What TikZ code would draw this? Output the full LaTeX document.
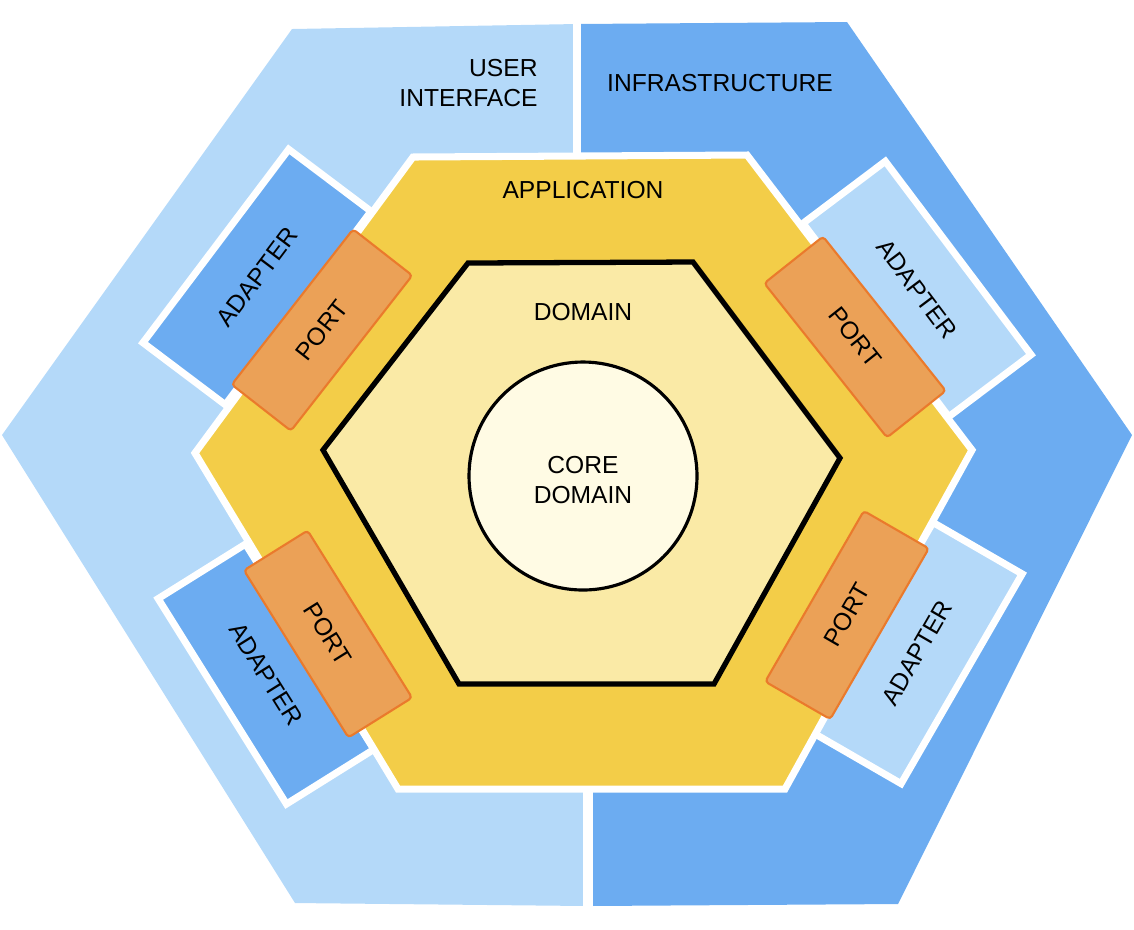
\documentclass[tikz,border=0pt]{standalone}
\usepackage{fontspec}
\setmainfont{Liberation Sans}
\definecolor{uiblue}{HTML}{B4D9F9}
\definecolor{infblue}{HTML}{6CACF1}
\definecolor{appyellow}{HTML}{F3CD48}
\definecolor{domyellow}{HTML}{FAEAA6}
\definecolor{corecream}{HTML}{FFFBE4}
\definecolor{portfill}{HTML}{EBA157}
\definecolor{portline}{HTML}{EA7A2C}

\begin{document}
\begin{tikzpicture}[x=0.01cm,y=-0.01cm,font=\fontsize{7}{8.8}\selectfont,
  adapter/.style={draw=white,line width=2pt,minimum width=2.42cm,minimum height=1.03cm,inner sep=0pt},
  port/.style={draw=portline,fill=portfill,line width=0.6pt,rounded corners=1pt,minimum width=1.97cm,minimum height=0.75cm,inner sep=0pt}]
\useasboundingbox (0,0) rectangle (1134,929);

% outer ring: user interface and infrastructure
\fill[uiblue] (292,29) -- (577,24) -- (577,475) -- (588,475) -- (588,906) -- (295,903) -- (2,435) -- cycle;
\fill[infblue] (577,24) -- (847,22) -- (1132,435) -- (898,904) -- (588,906) -- (588,475) -- (577,475) -- cycle;
\draw[white,line width=2.5pt] (577,15) -- (577,170);
\draw[white,line width=2.8pt] (588,775) -- (588,915);

\node[adapter,fill=infblue,rotate=53] (adtl) at (257,277) {ADAPTER};
\node[adapter,fill=uiblue,rotate=-53] (adtr) at (917,289) {ADAPTER};
\node[adapter,fill=infblue,rotate=-58] (adbl) at (266,674) {ADAPTER};
\node[adapter,fill=uiblue,rotate=60] (adbr) at (917,653) {ADAPTER};

% application
\draw[white,line width=2pt,fill=appyellow] (413,157) -- (747,155) -- (972,450) -- (785,789) -- (398,789) -- (195,453) -- cycle;

\node[port,rotate=52] (ptl) at (322,330) {PORT};
\node[port,rotate=-51.5] (ptr) at (855,337) {PORT};
\node[port,rotate=-58] (pbl) at (328,634) {PORT};
\node[port,rotate=60] (pbr) at (847,615) {PORT};

% domain and core
\draw[line width=1.5pt,fill=domyellow] (468,263) -- (693,262) -- (840,458) -- (714,684) -- (459,684) -- (323,450) -- cycle;
\draw[line width=0.9pt,fill=corecream] (583,476) circle[radius=114];

\node[align=right,anchor=east] (ui) at (550,83) {USER\\INTERFACE};
\node (infra) at (720,83) {INFRASTRUCTURE};
\node (app) at (583,190) {APPLICATION};
\node (dom) at (583,312) {DOMAIN};
\node[align=center] (core) at (583,480) {CORE\\DOMAIN};
\end{tikzpicture}
\end{document}
